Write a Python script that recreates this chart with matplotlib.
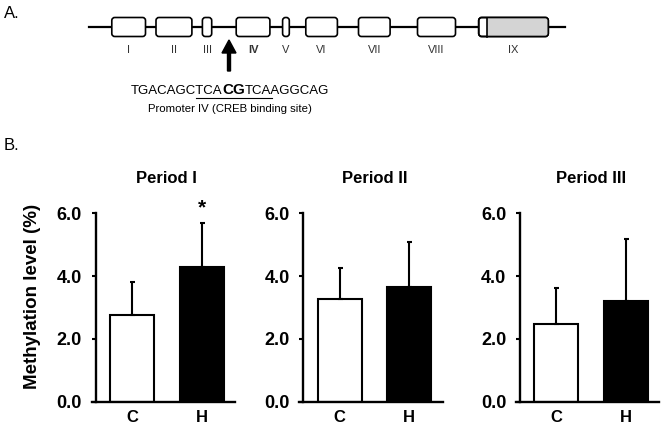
import matplotlib
matplotlib.use("Agg")
import matplotlib.pyplot as plt
from matplotlib.patches import FancyBboxPatch, Rectangle

plt.rcParams['font.family'] = ['Liberation Sans', 'DejaVu Sans']

# ---- data ----
periods = ["Period I", "Period II", "Period III"]
groups = ["C", "H"]
means = [[2.76, 4.30], [3.27, 3.64], [2.47, 3.22]]
errs = [[1.06, 1.40], [1.00, 1.44], [1.16, 1.96]]
stars = [["", "*"], ["", ""], ["", ""]]
yticks = [0.0, 2.0, 4.0, 6.0]

# gene map (panel A), pixel units of the figure
exon_names = ["I", "II", "III", "IV", "V", "VI", "VII", "VIII", "IX"]
exon_start = [111.8, 156.0, 202.4, 236.2, 282.6, 305.8, 358.5, 417.5, 478.7]
exon_end = [145.5, 191.9, 211.7, 269.9, 289.3, 337.4, 390.1, 455.5, 548.3]
ix_coding_start = 487.1
seq_prefix, seq_cg, seq_suffix = "TGACAGCTCA", "CG", "TCAAGGCAG"

W, H = 661, 432
fig = plt.figure(figsize=(W / 100, H / 100), dpi=100)

# ---- panel A: overlay axes in pixel coordinates ----
ax0 = fig.add_axes([0, 0, 1, 1])
ax0.set_xlim(0, W)
ax0.set_ylim(H, 0)
ax0.axis('off')

ax0.plot([88.6, 565.2], [27, 27], color='black', lw=1.6, zorder=1)
box_top, box_h = 17.5, 19
for i, name in enumerate(exon_names):
    x0, x1 = exon_start[i], exon_end[i]
    box = FancyBboxPatch((x0, box_top), x1 - x0, box_h,
                         boxstyle="round,pad=0,rounding_size=3",
                         fc='white', ec='black', lw=1.2, zorder=2)
    ax0.add_patch(box)
    if name == "IX":
        grey = Rectangle((ix_coding_start, box_top), x1 - ix_coding_start, box_h,
                         fc='#d4d4d4', ec='none', zorder=2.5)
        ax0.add_patch(grey)
        grey.set_clip_path(box)
        ax0.plot([ix_coding_start, ix_coding_start], [box_top, box_top + box_h],
                 color='black', lw=1.2, zorder=3)
        ax0.add_patch(FancyBboxPatch((x0, box_top), x1 - x0, box_h,
                                     boxstyle="round,pad=0,rounding_size=3",
                                     fc='none', ec='black', lw=1.2, zorder=3))
    ax0.text((x0 + x1) / 2, 50, name, ha='center', va='center', fontsize=8,
             color='#333333', fontweight='bold' if name == "IV" else 'normal')

# arrow pointing at promoter IV
ax0.arrow(229, 71, 0, -31, width=3, head_width=14, head_length=13,
          length_includes_head=True, fc='black', ec='black', zorder=3)

# sequence with bold CG
renderer = fig.canvas.get_renderer()
inv = ax0.transData.inverted()
seq_y = 94
t1 = ax0.text(130.7, seq_y, seq_prefix, ha='left', va='baseline', fontsize=9.5)
bb1 = t1.get_window_extent(renderer)
x_cg = inv.transform((bb1.x1, 0))[0]
t2 = ax0.text(x_cg, seq_y, seq_cg, ha='left', va='baseline', fontsize=11, fontweight='bold')
bb2 = t2.get_window_extent(renderer)
x_suf = inv.transform((bb2.x1, 0))[0]
t3 = ax0.text(x_suf, seq_y, seq_suffix, ha='left', va='baseline', fontsize=9.5)
tmp = ax0.text(0, 0, "TCA", fontsize=9.5)
w_tca = tmp.get_window_extent(renderer).width
tmp.remove()
ax0.plot([x_cg - w_tca, x_suf + w_tca], [97.7, 97.7], color='black', lw=0.8)
ax0.text(230.3, 109.3, "Promoter IV (CREB binding site)", ha='center', va='center',
         fontsize=8.2)

ax0.text(4, 13, "A.", ha='left', va='center', fontsize=12)
ax0.text(3.3, 146, "B.", ha='left', va='center', fontsize=12)

# ---- panel B: bar charts ----
lefts = [91.7, 299.3, 516.0]
ax_w, ax_b, ax_h = 143.3, 30.3, 188.4
xpos = [1, 2]
fills = ['white', 'black']

for i, period in enumerate(periods):
    ax = fig.add_axes([lefts[i] / W, ax_b / H, ax_w / W, ax_h / H])
    ax.bar(xpos, means[i], width=0.63, color=fills, edgecolor='black', linewidth=1.5,
           yerr=[[0, 0], errs[i]],
           error_kw=dict(elinewidth=1.5, capsize=1.8, capthick=1.5, ecolor='black'))
    ax.set_xlim(0.42, 2.48)
    ax.set_ylim(0, 6)
    ax.spines['top'].set_visible(False)
    ax.spines['right'].set_visible(False)
    ax.spines['left'].set_position(('data', 0.48))
    ax.spines['left'].set_linewidth(1.7)
    ax.spines['bottom'].set_linewidth(1.7)
    ax.set_yticks(yticks)
    ax.set_yticklabels([f"{v:.1f}" for v in yticks], fontweight='bold', fontsize=13)
    ax.set_xticks(xpos)
    ax.set_xticklabels(groups, fontweight='bold', fontsize=12)
    ax.tick_params(axis='y', length=3, width=1.5, pad=7)
    ax.tick_params(axis='x', length=0, pad=6)
    ax.patch.set_visible(False)
    ax.text(1.5, 1.163, period, transform=ax.get_xaxis_transform(), ha='center',
            va='baseline', fontsize=12, fontweight='bold')
    for j, s in enumerate(stars[i]):
        if s:
            ax.text(xpos[j], 1.0, s, transform=ax.get_xaxis_transform(), ha='center',
                    va='baseline', fontsize=15, fontweight='bold', clip_on=False)
    if i == 0:
        ax.text(-0.41, 0.557, "Methylation level (%)", transform=ax.transAxes,
                rotation=90, ha='center', va='center', fontsize=13.5, fontweight='bold')

fig.savefig("out.png", dpi=100)
